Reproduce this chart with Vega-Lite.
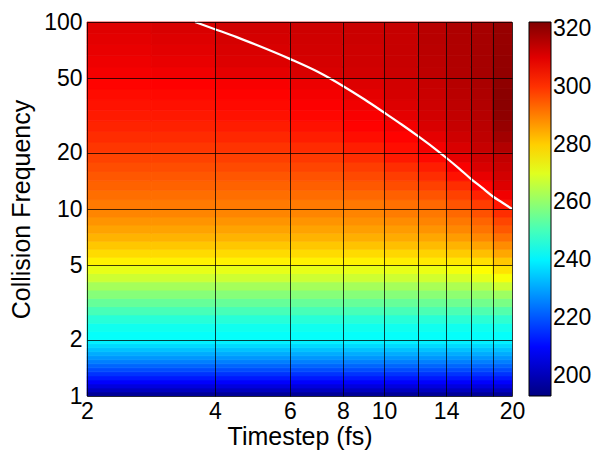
{
"$schema": "https://vega.github.io/schema/vega-lite/v6.json",
"width": 425, "height": 374,
"autosize": "none",
"padding": {"left": 87, "top": 22, "right": 91, "bottom": 57},
"background": "white",
"config": {"view": {"stroke": null}, "font": "Liberation Sans"},
"datasets": {
"grid": [
{"x0":2,"x1":20,"y0":1,"y1":1.0508,"t":196},
{"x0":2,"x1":20,"y0":1.0508,"y1":1.1041,"t":201},
{"x0":2,"x1":20,"y0":1.1041,"y1":1.1602,"t":205},
{"x0":2,"x1":20,"y0":1.1602,"y1":1.219,"t":209},
{"x0":2,"x1":20,"y0":1.219,"y1":1.2809,"t":212.2},
{"x0":2,"x1":20,"y0":1.2809,"y1":1.3459,"t":215.5},
{"x0":2,"x1":20,"y0":1.3459,"y1":1.4142,"t":218.8},
{"x0":2,"x1":20,"y0":1.4142,"y1":1.486,"t":222},
{"x0":2,"x1":20,"y0":1.486,"y1":1.5615,"t":225.3},
{"x0":2,"x1":20,"y0":1.5615,"y1":1.6407,"t":228.2},
{"x0":2,"x1":20,"y0":1.6407,"y1":1.7241,"t":231},
{"x0":2,"x1":20,"y0":1.7241,"y1":1.8116,"t":233.8},
{"x0":2,"x1":20,"y0":1.8116,"y1":1.9036,"t":236.7},
{"x0":2,"x1":20,"y0":1.9036,"y1":2,"t":239.6},

{"x0":2,"x1":12,"y0":2,"y1":2.214,"t":242},{"x0":12,"x1":14,"y0":2,"y1":2.214,"t":242},{"x0":14,"x1":16,"y0":2,"y1":2.214,"t":242},{"x0":16,"x1":18,"y0":2,"y1":2.214,"t":242},{"x0":18,"x1":20,"y0":2,"y1":2.214,"t":242},
{"x0":2,"x1":12,"y0":2.214,"y1":2.451,"t":243.5},{"x0":12,"x1":14,"y0":2.214,"y1":2.451,"t":243.5},{"x0":14,"x1":16,"y0":2.214,"y1":2.451,"t":243.5},{"x0":16,"x1":18,"y0":2.214,"y1":2.451,"t":243.5},{"x0":18,"x1":20,"y0":2.214,"y1":2.451,"t":244},
{"x0":2,"x1":12,"y0":2.451,"y1":2.714,"t":246.5},{"x0":12,"x1":14,"y0":2.451,"y1":2.714,"t":246.5},{"x0":14,"x1":16,"y0":2.451,"y1":2.714,"t":247},{"x0":16,"x1":18,"y0":2.451,"y1":2.714,"t":247},{"x0":18,"x1":20,"y0":2.451,"y1":2.714,"t":247.5},
{"x0":2,"x1":12,"y0":2.714,"y1":3.005,"t":250.5},{"x0":12,"x1":14,"y0":2.714,"y1":3.005,"t":251},{"x0":14,"x1":16,"y0":2.714,"y1":3.005,"t":251},{"x0":16,"x1":18,"y0":2.714,"y1":3.005,"t":251.5},{"x0":18,"x1":20,"y0":2.714,"y1":3.005,"t":252},
{"x0":2,"x1":12,"y0":3.005,"y1":3.326,"t":254.5},{"x0":12,"x1":14,"y0":3.005,"y1":3.326,"t":255},{"x0":14,"x1":16,"y0":3.005,"y1":3.326,"t":255.5},{"x0":16,"x1":18,"y0":3.005,"y1":3.326,"t":256},{"x0":18,"x1":20,"y0":3.005,"y1":3.326,"t":257},
{"x0":2,"x1":12,"y0":3.326,"y1":3.683,"t":258.5},{"x0":12,"x1":14,"y0":3.326,"y1":3.683,"t":259},{"x0":14,"x1":16,"y0":3.326,"y1":3.683,"t":259.5},{"x0":16,"x1":18,"y0":3.326,"y1":3.683,"t":260},{"x0":18,"x1":20,"y0":3.326,"y1":3.683,"t":261.5},
{"x0":2,"x1":12,"y0":3.683,"y1":4.077,"t":262.5},{"x0":12,"x1":14,"y0":3.683,"y1":4.077,"t":263},{"x0":14,"x1":16,"y0":3.683,"y1":4.077,"t":263.5},{"x0":16,"x1":18,"y0":3.683,"y1":4.077,"t":264.5},{"x0":18,"x1":20,"y0":3.683,"y1":4.077,"t":267.5},
{"x0":2,"x1":12,"y0":4.077,"y1":4.514,"t":267.5},{"x0":12,"x1":14,"y0":4.077,"y1":4.514,"t":268},{"x0":14,"x1":16,"y0":4.077,"y1":4.514,"t":268.5},{"x0":16,"x1":18,"y0":4.077,"y1":4.514,"t":270.5},{"x0":18,"x1":20,"y0":4.077,"y1":4.514,"t":273},
{"x0":2,"x1":12,"y0":4.514,"y1":5,"t":271},{"x0":12,"x1":14,"y0":4.514,"y1":5,"t":271.5},{"x0":14,"x1":16,"y0":4.514,"y1":5,"t":272.5},{"x0":16,"x1":18,"y0":4.514,"y1":5,"t":274},{"x0":18,"x1":20,"y0":4.514,"y1":5,"t":277.5},

{"x0":2,"x1":2.83,"y0":5,"y1":5.52,"t":275.5},{"x0":2.83,"x1":4,"y0":5,"y1":5.52,"t":275.5},{"x0":4,"x1":6,"y0":5,"y1":5.52,"t":275.5},{"x0":6,"x1":8,"y0":5,"y1":5.52,"t":275.5},{"x0":8,"x1":10,"y0":5,"y1":5.52,"t":275.5},{"x0":10,"x1":12,"y0":5,"y1":5.52,"t":276},{"x0":12,"x1":14,"y0":5,"y1":5.52,"t":276.5},{"x0":14,"x1":16,"y0":5,"y1":5.52,"t":277},{"x0":16,"x1":18,"y0":5,"y1":5.52,"t":278},{"x0":18,"x1":20,"y0":5,"y1":5.52,"t":281},
{"x0":2,"x1":2.83,"y0":5.52,"y1":6.095,"t":278.5},{"x0":2.83,"x1":4,"y0":5.52,"y1":6.095,"t":278.5},{"x0":4,"x1":6,"y0":5.52,"y1":6.095,"t":278.5},{"x0":6,"x1":8,"y0":5.52,"y1":6.095,"t":278.5},{"x0":8,"x1":10,"y0":5.52,"y1":6.095,"t":278.5},{"x0":10,"x1":12,"y0":5.52,"y1":6.095,"t":279},{"x0":12,"x1":14,"y0":5.52,"y1":6.095,"t":279.5},{"x0":14,"x1":16,"y0":5.52,"y1":6.095,"t":280.5},{"x0":16,"x1":18,"y0":5.52,"y1":6.095,"t":282},{"x0":18,"x1":20,"y0":5.52,"y1":6.095,"t":285},
{"x0":2,"x1":2.83,"y0":6.095,"y1":6.73,"t":281},{"x0":2.83,"x1":4,"y0":6.095,"y1":6.73,"t":281},{"x0":4,"x1":6,"y0":6.095,"y1":6.73,"t":281},{"x0":6,"x1":8,"y0":6.095,"y1":6.73,"t":281},{"x0":8,"x1":10,"y0":6.095,"y1":6.73,"t":281.5},{"x0":10,"x1":12,"y0":6.095,"y1":6.73,"t":282},{"x0":12,"x1":14,"y0":6.095,"y1":6.73,"t":282.5},{"x0":14,"x1":16,"y0":6.095,"y1":6.73,"t":283.5},{"x0":16,"x1":18,"y0":6.095,"y1":6.73,"t":285.5},{"x0":18,"x1":20,"y0":6.095,"y1":6.73,"t":288.5},
{"x0":2,"x1":2.83,"y0":6.73,"y1":7.43,"t":283.5},{"x0":2.83,"x1":4,"y0":6.73,"y1":7.43,"t":283.5},{"x0":4,"x1":6,"y0":6.73,"y1":7.43,"t":283.5},{"x0":6,"x1":8,"y0":6.73,"y1":7.43,"t":283.5},{"x0":8,"x1":10,"y0":6.73,"y1":7.43,"t":284},{"x0":10,"x1":12,"y0":6.73,"y1":7.43,"t":284.5},{"x0":12,"x1":14,"y0":6.73,"y1":7.43,"t":285},{"x0":14,"x1":16,"y0":6.73,"y1":7.43,"t":286.5},{"x0":16,"x1":18,"y0":6.73,"y1":7.43,"t":289},{"x0":18,"x1":20,"y0":6.73,"y1":7.43,"t":292},
{"x0":2,"x1":2.83,"y0":7.43,"y1":8.205,"t":285.5},{"x0":2.83,"x1":4,"y0":7.43,"y1":8.205,"t":285.5},{"x0":4,"x1":6,"y0":7.43,"y1":8.205,"t":285.5},{"x0":6,"x1":8,"y0":7.43,"y1":8.205,"t":285.5},{"x0":8,"x1":10,"y0":7.43,"y1":8.205,"t":286},{"x0":10,"x1":12,"y0":7.43,"y1":8.205,"t":286.5},{"x0":12,"x1":14,"y0":7.43,"y1":8.205,"t":287.5},{"x0":14,"x1":16,"y0":7.43,"y1":8.205,"t":289},{"x0":16,"x1":18,"y0":7.43,"y1":8.205,"t":291.5},{"x0":18,"x1":20,"y0":7.43,"y1":8.205,"t":295},
{"x0":2,"x1":2.83,"y0":8.205,"y1":9.06,"t":287.5},{"x0":2.83,"x1":4,"y0":8.205,"y1":9.06,"t":287.5},{"x0":4,"x1":6,"y0":8.205,"y1":9.06,"t":287.5},{"x0":6,"x1":8,"y0":8.205,"y1":9.06,"t":287.5},{"x0":8,"x1":10,"y0":8.205,"y1":9.06,"t":288},{"x0":10,"x1":12,"y0":8.205,"y1":9.06,"t":288.5},{"x0":12,"x1":14,"y0":8.205,"y1":9.06,"t":289.5},{"x0":14,"x1":16,"y0":8.205,"y1":9.06,"t":291},{"x0":16,"x1":18,"y0":8.205,"y1":9.06,"t":293.5},{"x0":18,"x1":20,"y0":8.205,"y1":9.06,"t":297.5},
{"x0":2,"x1":2.83,"y0":9.06,"y1":10,"t":289.3},{"x0":2.83,"x1":4,"y0":9.06,"y1":10,"t":289.3},{"x0":4,"x1":6,"y0":9.06,"y1":10,"t":289.3},{"x0":6,"x1":8,"y0":9.06,"y1":10,"t":289.3},{"x0":8,"x1":10,"y0":9.06,"y1":10,"t":289.5},{"x0":10,"x1":12,"y0":9.06,"y1":10,"t":290.5},{"x0":12,"x1":14,"y0":9.06,"y1":10,"t":291},{"x0":14,"x1":16,"y0":9.06,"y1":10,"t":293},{"x0":16,"x1":18,"y0":9.06,"y1":10,"t":296},{"x0":18,"x1":20,"y0":9.06,"y1":10,"t":300.5},
{"x0":2,"x1":2.83,"y0":10,"y1":11.22,"t":290.8},{"x0":2.83,"x1":4,"y0":10,"y1":11.22,"t":290.8},{"x0":4,"x1":6,"y0":10,"y1":11.22,"t":290.8},{"x0":6,"x1":8,"y0":10,"y1":11.22,"t":290.8},{"x0":8,"x1":10,"y0":10,"y1":11.22,"t":291},{"x0":10,"x1":12,"y0":10,"y1":11.22,"t":292},{"x0":12,"x1":14,"y0":10,"y1":11.22,"t":293},{"x0":14,"x1":16,"y0":10,"y1":11.22,"t":295.5},{"x0":16,"x1":18,"y0":10,"y1":11.22,"t":298.5},{"x0":18,"x1":20,"y0":10,"y1":11.22,"t":303.5},
{"x0":2,"x1":2.83,"y0":11.22,"y1":12.6,"t":292.3},{"x0":2.83,"x1":4,"y0":11.22,"y1":12.6,"t":292.3},{"x0":4,"x1":6,"y0":11.22,"y1":12.6,"t":292.3},{"x0":6,"x1":8,"y0":11.22,"y1":12.6,"t":292.5},{"x0":8,"x1":10,"y0":11.22,"y1":12.6,"t":293},{"x0":10,"x1":12,"y0":11.22,"y1":12.6,"t":294},{"x0":12,"x1":14,"y0":11.22,"y1":12.6,"t":295.5},{"x0":14,"x1":16,"y0":11.22,"y1":12.6,"t":298},{"x0":16,"x1":18,"y0":11.22,"y1":12.6,"t":302},{"x0":18,"x1":20,"y0":11.22,"y1":12.6,"t":308},
{"x0":2,"x1":2.83,"y0":12.6,"y1":14.14,"t":293.8},{"x0":2.83,"x1":4,"y0":12.6,"y1":14.14,"t":293.8},{"x0":4,"x1":6,"y0":12.6,"y1":14.14,"t":293.8},{"x0":6,"x1":8,"y0":12.6,"y1":14.14,"t":294.2},{"x0":8,"x1":10,"y0":12.6,"y1":14.14,"t":295},{"x0":10,"x1":12,"y0":12.6,"y1":14.14,"t":296.5},{"x0":12,"x1":14,"y0":12.6,"y1":14.14,"t":298},{"x0":14,"x1":16,"y0":12.6,"y1":14.14,"t":300.5},{"x0":16,"x1":18,"y0":12.6,"y1":14.14,"t":306},{"x0":18,"x1":20,"y0":12.6,"y1":14.14,"t":310.5},
{"x0":2,"x1":2.83,"y0":14.14,"y1":15.87,"t":295.2},{"x0":2.83,"x1":4,"y0":14.14,"y1":15.87,"t":295.2},{"x0":4,"x1":6,"y0":14.14,"y1":15.87,"t":295.3},{"x0":6,"x1":8,"y0":14.14,"y1":15.87,"t":295.8},{"x0":8,"x1":10,"y0":14.14,"y1":15.87,"t":297},{"x0":10,"x1":12,"y0":14.14,"y1":15.87,"t":298.5},{"x0":12,"x1":14,"y0":14.14,"y1":15.87,"t":300.5},{"x0":14,"x1":16,"y0":14.14,"y1":15.87,"t":304},{"x0":16,"x1":18,"y0":14.14,"y1":15.87,"t":309},{"x0":18,"x1":20,"y0":14.14,"y1":15.87,"t":312},
{"x0":2,"x1":2.83,"y0":15.87,"y1":17.82,"t":296.5},{"x0":2.83,"x1":4,"y0":15.87,"y1":17.82,"t":296.5},{"x0":4,"x1":6,"y0":15.87,"y1":17.82,"t":296.8},{"x0":6,"x1":8,"y0":15.87,"y1":17.82,"t":297.5},{"x0":8,"x1":10,"y0":15.87,"y1":17.82,"t":298.5},{"x0":10,"x1":12,"y0":15.87,"y1":17.82,"t":300.5},{"x0":12,"x1":14,"y0":15.87,"y1":17.82,"t":302.5},{"x0":14,"x1":16,"y0":15.87,"y1":17.82,"t":307},{"x0":16,"x1":18,"y0":15.87,"y1":17.82,"t":311},{"x0":18,"x1":20,"y0":15.87,"y1":17.82,"t":313},
{"x0":2,"x1":2.83,"y0":17.82,"y1":20,"t":297.7},{"x0":2.83,"x1":4,"y0":17.82,"y1":20,"t":297.8},{"x0":4,"x1":6,"y0":17.82,"y1":20,"t":298.2},{"x0":6,"x1":8,"y0":17.82,"y1":20,"t":299},{"x0":8,"x1":10,"y0":17.82,"y1":20,"t":300.5},{"x0":10,"x1":12,"y0":17.82,"y1":20,"t":303},{"x0":12,"x1":14,"y0":17.82,"y1":20,"t":305},{"x0":14,"x1":16,"y0":17.82,"y1":20,"t":309.5},{"x0":16,"x1":18,"y0":17.82,"y1":20,"t":312.5},{"x0":18,"x1":20,"y0":17.82,"y1":20,"t":314},
{"x0":2,"x1":2.83,"y0":20,"y1":22.8,"t":299.3},{"x0":2.83,"x1":4,"y0":20,"y1":22.8,"t":299.4},{"x0":4,"x1":6,"y0":20,"y1":22.8,"t":299.8},{"x0":6,"x1":8,"y0":20,"y1":22.8,"t":300.8},{"x0":8,"x1":10,"y0":20,"y1":22.8,"t":302.5},{"x0":10,"x1":12,"y0":20,"y1":22.8,"t":304.5},{"x0":12,"x1":14,"y0":20,"y1":22.8,"t":307.5},{"x0":14,"x1":16,"y0":20,"y1":22.8,"t":311},{"x0":16,"x1":18,"y0":20,"y1":22.8,"t":313.5},{"x0":18,"x1":20,"y0":20,"y1":22.8,"t":316},
{"x0":2,"x1":2.83,"y0":22.8,"y1":25.99,"t":300.6},{"x0":2.83,"x1":4,"y0":22.8,"y1":25.99,"t":300.8},{"x0":4,"x1":6,"y0":22.8,"y1":25.99,"t":301.3},{"x0":6,"x1":8,"y0":22.8,"y1":25.99,"t":302.5},{"x0":8,"x1":10,"y0":22.8,"y1":25.99,"t":304.5},{"x0":10,"x1":12,"y0":22.8,"y1":25.99,"t":306},{"x0":12,"x1":14,"y0":22.8,"y1":25.99,"t":309.5},{"x0":14,"x1":16,"y0":22.8,"y1":25.99,"t":312.5},{"x0":16,"x1":18,"y0":22.8,"y1":25.99,"t":314.5},{"x0":18,"x1":20,"y0":22.8,"y1":25.99,"t":318},
{"x0":2,"x1":2.83,"y0":25.99,"y1":29.62,"t":301.8},{"x0":2.83,"x1":4,"y0":25.99,"y1":29.62,"t":302},{"x0":4,"x1":6,"y0":25.99,"y1":29.62,"t":302.7},{"x0":6,"x1":8,"y0":25.99,"y1":29.62,"t":304},{"x0":8,"x1":10,"y0":25.99,"y1":29.62,"t":306},{"x0":10,"x1":12,"y0":25.99,"y1":29.62,"t":307.5},{"x0":12,"x1":14,"y0":25.99,"y1":29.62,"t":311},{"x0":14,"x1":16,"y0":25.99,"y1":29.62,"t":313.5},{"x0":16,"x1":18,"y0":25.99,"y1":29.62,"t":315},{"x0":18,"x1":20,"y0":25.99,"y1":29.62,"t":319.5},
{"x0":2,"x1":2.83,"y0":29.62,"y1":33.77,"t":302.9},{"x0":2.83,"x1":4,"y0":29.62,"y1":33.77,"t":303.2},{"x0":4,"x1":6,"y0":29.62,"y1":33.77,"t":304},{"x0":6,"x1":8,"y0":29.62,"y1":33.77,"t":305.5},{"x0":8,"x1":10,"y0":29.62,"y1":33.77,"t":307},{"x0":10,"x1":12,"y0":29.62,"y1":33.77,"t":309.5},{"x0":12,"x1":14,"y0":29.62,"y1":33.77,"t":312},{"x0":14,"x1":16,"y0":29.62,"y1":33.77,"t":314},{"x0":16,"x1":18,"y0":29.62,"y1":33.77,"t":315.5},{"x0":18,"x1":20,"y0":29.62,"y1":33.77,"t":320.5},
{"x0":2,"x1":2.83,"y0":33.77,"y1":38.49,"t":303.9},{"x0":2.83,"x1":4,"y0":33.77,"y1":38.49,"t":304.2},{"x0":4,"x1":6,"y0":33.77,"y1":38.49,"t":305},{"x0":6,"x1":8,"y0":33.77,"y1":38.49,"t":306.5},{"x0":8,"x1":10,"y0":33.77,"y1":38.49,"t":308},{"x0":10,"x1":12,"y0":33.77,"y1":38.49,"t":310.5},{"x0":12,"x1":14,"y0":33.77,"y1":38.49,"t":312.5},{"x0":14,"x1":16,"y0":33.77,"y1":38.49,"t":314.5},{"x0":16,"x1":18,"y0":33.77,"y1":38.49,"t":316},{"x0":18,"x1":20,"y0":33.77,"y1":38.49,"t":321},
{"x0":2,"x1":2.83,"y0":38.49,"y1":43.87,"t":304.8},{"x0":2.83,"x1":4,"y0":38.49,"y1":43.87,"t":305.2},{"x0":4,"x1":6,"y0":38.49,"y1":43.87,"t":306},{"x0":6,"x1":8,"y0":38.49,"y1":43.87,"t":307.5},{"x0":8,"x1":10,"y0":38.49,"y1":43.87,"t":309.5},{"x0":10,"x1":12,"y0":38.49,"y1":43.87,"t":311.5},{"x0":12,"x1":14,"y0":38.49,"y1":43.87,"t":313},{"x0":14,"x1":16,"y0":38.49,"y1":43.87,"t":315},{"x0":16,"x1":18,"y0":38.49,"y1":43.87,"t":316.5},{"x0":18,"x1":20,"y0":38.49,"y1":43.87,"t":321},
{"x0":2,"x1":2.83,"y0":43.87,"y1":50,"t":305.8},{"x0":2.83,"x1":4,"y0":43.87,"y1":50,"t":306.2},{"x0":4,"x1":6,"y0":43.87,"y1":50,"t":307},{"x0":6,"x1":8,"y0":43.87,"y1":50,"t":308.5},{"x0":8,"x1":10,"y0":43.87,"y1":50,"t":310.5},{"x0":10,"x1":12,"y0":43.87,"y1":50,"t":312},{"x0":12,"x1":14,"y0":43.87,"y1":50,"t":313.5},{"x0":14,"x1":16,"y0":43.87,"y1":50,"t":315.5},{"x0":16,"x1":18,"y0":43.87,"y1":50,"t":317},{"x0":18,"x1":20,"y0":43.87,"y1":50,"t":320.5},
{"x0":2,"x1":2.83,"y0":50,"y1":57.43,"t":307.5},{"x0":2.83,"x1":4,"y0":50,"y1":57.43,"t":308},{"x0":4,"x1":6,"y0":50,"y1":57.43,"t":309.5},{"x0":6,"x1":8,"y0":50,"y1":57.43,"t":311},{"x0":8,"x1":10,"y0":50,"y1":57.43,"t":312},{"x0":10,"x1":12,"y0":50,"y1":57.43,"t":313},{"x0":12,"x1":14,"y0":50,"y1":57.43,"t":314.5},{"x0":14,"x1":16,"y0":50,"y1":57.43,"t":316},{"x0":16,"x1":18,"y0":50,"y1":57.43,"t":317.5},{"x0":18,"x1":20,"y0":50,"y1":57.43,"t":320},
{"x0":2,"x1":2.83,"y0":57.43,"y1":65.98,"t":308.3},{"x0":2.83,"x1":4,"y0":57.43,"y1":65.98,"t":309},{"x0":4,"x1":6,"y0":57.43,"y1":65.98,"t":310.5},{"x0":6,"x1":8,"y0":57.43,"y1":65.98,"t":311.5},{"x0":8,"x1":10,"y0":57.43,"y1":65.98,"t":312.3},{"x0":10,"x1":12,"y0":57.43,"y1":65.98,"t":313.2},{"x0":12,"x1":14,"y0":57.43,"y1":65.98,"t":314.8},{"x0":14,"x1":16,"y0":57.43,"y1":65.98,"t":316.2},{"x0":16,"x1":18,"y0":57.43,"y1":65.98,"t":317.5},{"x0":18,"x1":20,"y0":57.43,"y1":65.98,"t":319.8},
{"x0":2,"x1":2.83,"y0":65.98,"y1":75.79,"t":309},{"x0":2.83,"x1":4,"y0":65.98,"y1":75.79,"t":309.8},{"x0":4,"x1":6,"y0":65.98,"y1":75.79,"t":311},{"x0":6,"x1":8,"y0":65.98,"y1":75.79,"t":312},{"x0":8,"x1":10,"y0":65.98,"y1":75.79,"t":312.5},{"x0":10,"x1":12,"y0":65.98,"y1":75.79,"t":313.3},{"x0":12,"x1":14,"y0":65.98,"y1":75.79,"t":315},{"x0":14,"x1":16,"y0":65.98,"y1":75.79,"t":316.3},{"x0":16,"x1":18,"y0":65.98,"y1":75.79,"t":317.5},{"x0":18,"x1":20,"y0":65.98,"y1":75.79,"t":319.6},
{"x0":2,"x1":2.83,"y0":75.79,"y1":87.06,"t":309.6},{"x0":2.83,"x1":4,"y0":75.79,"y1":87.06,"t":310.4},{"x0":4,"x1":6,"y0":75.79,"y1":87.06,"t":311.5},{"x0":6,"x1":8,"y0":75.79,"y1":87.06,"t":312.2},{"x0":8,"x1":10,"y0":75.79,"y1":87.06,"t":312.8},{"x0":10,"x1":12,"y0":75.79,"y1":87.06,"t":313.4},{"x0":12,"x1":14,"y0":75.79,"y1":87.06,"t":315.2},{"x0":14,"x1":16,"y0":75.79,"y1":87.06,"t":316.4},{"x0":16,"x1":18,"y0":75.79,"y1":87.06,"t":317.5},{"x0":18,"x1":20,"y0":75.79,"y1":87.06,"t":319.5},
{"x0":2,"x1":2.83,"y0":87.06,"y1":100,"t":310.2},{"x0":2.83,"x1":4,"y0":87.06,"y1":100,"t":311},{"x0":4,"x1":6,"y0":87.06,"y1":100,"t":312},{"x0":6,"x1":8,"y0":87.06,"y1":100,"t":312.5},{"x0":8,"x1":10,"y0":87.06,"y1":100,"t":313},{"x0":10,"x1":12,"y0":87.06,"y1":100,"t":313.5},{"x0":12,"x1":14,"y0":87.06,"y1":100,"t":315.3},{"x0":14,"x1":16,"y0":87.06,"y1":100,"t":316.5},{"x0":16,"x1":18,"y0":87.06,"y1":100,"t":317.5},{"x0":18,"x1":20,"y0":87.06,"y1":100,"t":319.5}
],
"curve": [
{"ts":3.59,"cf":100},{"ts":4,"cf":91.5},{"ts":4.5,"cf":83},{"ts":5,"cf":75.5},{"ts":6,"cf":63.5},{"ts":7,"cf":54},{"ts":8,"cf":45.5},{"ts":9,"cf":38.5},{"ts":10,"cf":32.8},{"ts":11,"cf":28.3},{"ts":12,"cf":24.6},{"ts":13,"cf":21.5},{"ts":14,"cf":18.8},{"ts":15,"cf":16.5},{"ts":16,"cf":14.5},{"ts":17,"cf":13},{"ts":18,"cf":11.7},{"ts":19,"cf":10.8},{"ts":20,"cf":10}
]
},
"layer": [
{
"data": {"name": "grid"},
"mark": {"type": "rect", "stroke": {"expr": "scale('color', datum.t)"}, "strokeWidth": 0.8},
"encoding": {
"x": {"field": "x0", "type": "quantitative", "title": "Timestep (fs)",
 "scale": {"type": "log", "domain": [2, 20], "nice": false},
 "axis": {"values": [2,4,6,8,10,12,14,16,18,20], "format": "d",
  "labelExpr": "datum.value == 12 || datum.value == 16 || datum.value == 18 ? '' : datum.label",
  "grid": true, "gridColor": "black", "gridOpacity": 0.75, "gridWidth": 1,
  "ticks": false, "tickSize": 0, "domain": false, "labelFontSize": 23, "labelColor": "black",
  "labelPadding": 4, "labelFlush": false, "labelOverlap": false, "labelFont": "Liberation Sans",
  "titleFontSize": 25, "titleFontWeight": "normal", "titleColor": "black", "titlePadding": 1, "titleFont": "Liberation Sans", "zindex": 1}},
"x2": {"field": "x1"},
"y": {"field": "y0", "type": "quantitative", "title": "Collision Frequency",
 "scale": {"type": "log", "domain": [1, 100], "nice": false},
 "axis": {"values": [1,2,5,10,20,50,100], "format": "d",
  "grid": true, "gridColor": "black", "gridOpacity": 0.75, "gridWidth": 1,
  "ticks": false, "tickSize": 0, "domain": false, "labelFontSize": 23, "labelColor": "black",
  "labelPadding": 5, "labelFlush": false, "labelOverlap": false, "labelFont": "Liberation Sans",
  "titleFontSize": 25, "titleFontWeight": "normal", "titleColor": "black", "titlePadding": 9, "titleFont": "Liberation Sans", "zindex": 1}},
"y2": {"field": "y1"},
"color": {"field": "t", "type": "quantitative",
 "scale": {"type": "linear", "domain": [193, 209.2, 241.5, 273.9, 306.2, 322.4], "range": ["#000080", "#0000ff", "#00ffff", "#ffff00", "#ff0000", "#800000"], "interpolate": "rgb"},
 "legend": {"type": "gradient", "direction": "vertical", "orient": "none", "legendX": 442, "legendY": 0,
  "gradientLength": 374, "gradientThickness": 22, "gradientStrokeColor": "black", "gradientStrokeWidth": 1,
  "values": [200,220,240,260,280,300,320], "title": null, "labelFontSize": 23, "labelColor": "black", "labelFont": "Liberation Sans",
  "labelOffset": 2, "labelOverlap": false, "padding": 0}}
}
},
{
"data": {"name": "curve"},
"mark": {"type": "line", "color": "white", "strokeWidth": 2.2, "interpolate": "monotone"},
"encoding": {
"x": {"field": "ts", "type": "quantitative", "title": "Timestep (fs)"},
"y": {"field": "cf", "type": "quantitative", "title": "Collision Frequency"}
}
}
]
}
